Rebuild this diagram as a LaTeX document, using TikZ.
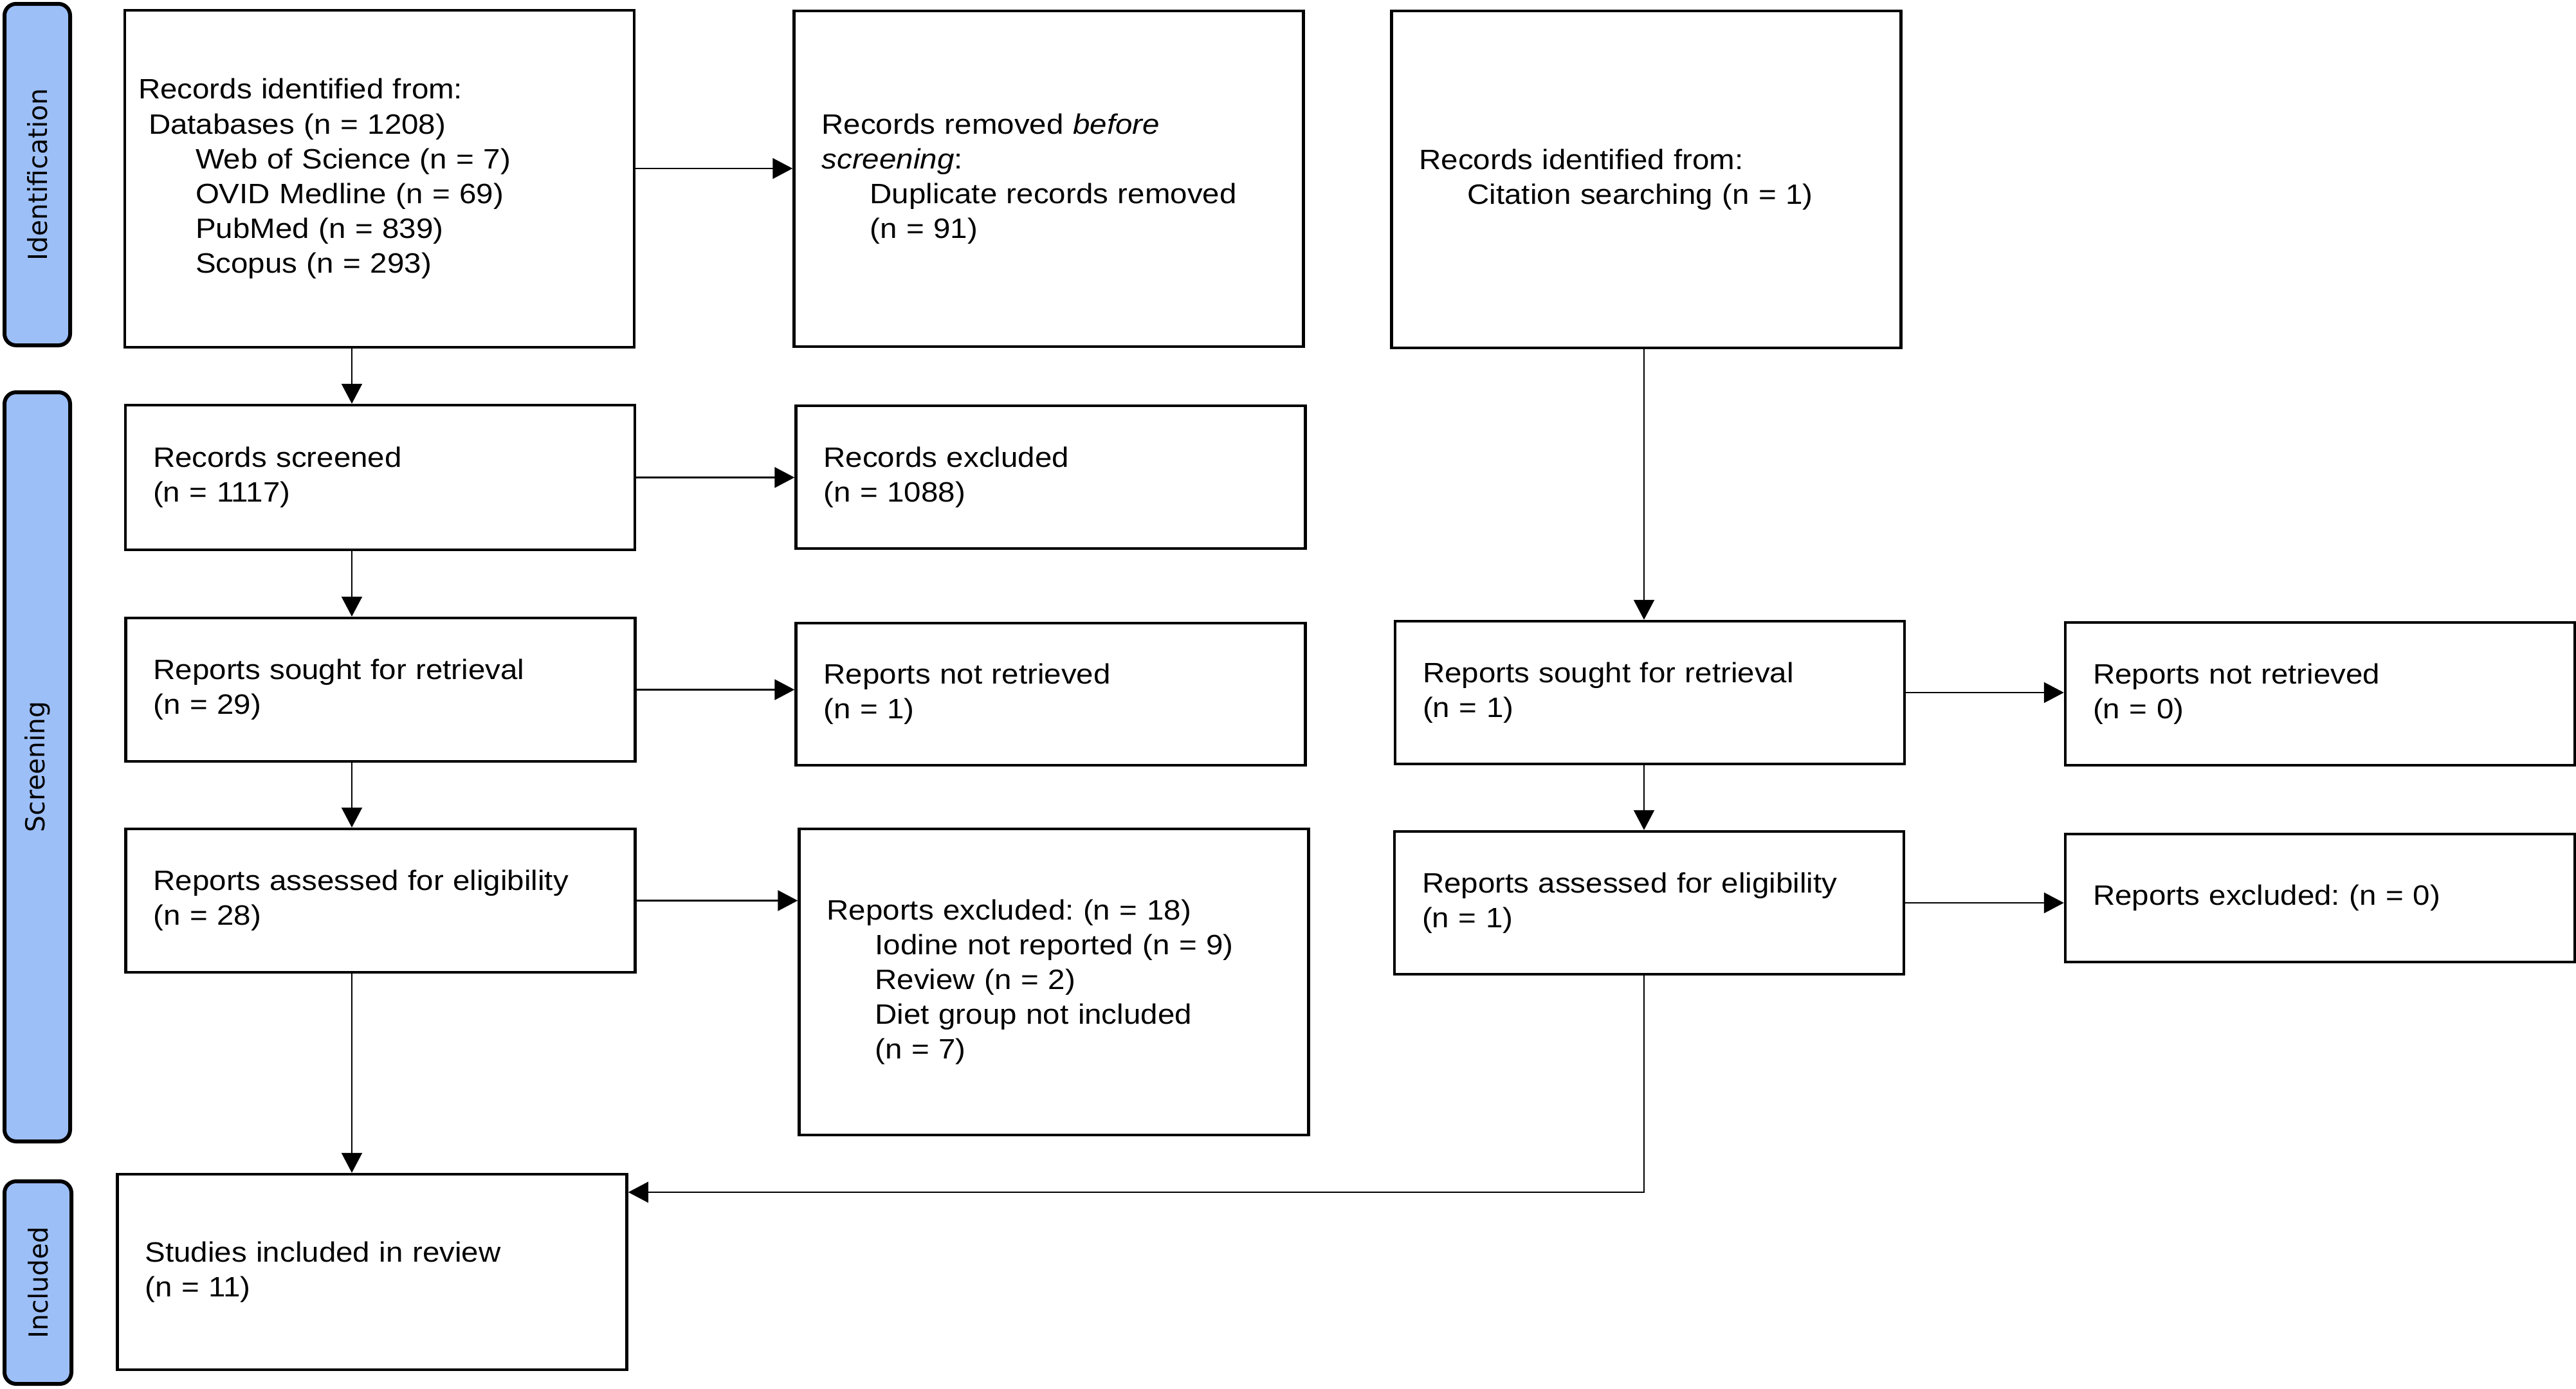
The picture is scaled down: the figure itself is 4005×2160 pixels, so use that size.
\documentclass[tikz,border=0pt]{standalone}
\usepackage{fontspec}
\setmainfont{Liberation Sans}[FakeStretch=1.09]
\newfontfamily\nhanfont{DejaVu Sans}
\usetikzlibrary{arrows.meta}
\definecolor{xanh}{HTML}{9DBFF8}
\frenchspacing
\tikzset{
  hop/.style={draw, line width=0.45mm, minimum height=#1, inner xsep=4.3mm, inner ysep=0pt,
    text width=70.6mm, align=left, anchor=center, font=\fontsize{12.4}{15.4}\selectfont},
  thanh/.style={draw, line width=0.6mm, fill=xanh, rounded corners=1.8mm, rotate=90,
    minimum width=#1, minimum height=10.2mm, inner sep=0pt,
    font=\nhanfont\fontsize{11.6}{14}\selectfont}
}
\newcommand{\lui}{\hspace*{7.5mm}}
\begin{document}
\begin{tikzpicture}[x=0.1mm, y=-0.1mm, line width=0.25mm, >={Triangle[length=3.1mm,width=3.2mm]}]
\useasboundingbox (0,0) rectangle (4005,2160);
% side bars
\node[thanh=53.1mm] (giai1) at (58,271.5) {Identification};
\node[thanh=116.5mm] (giai2) at (58,1192.5) {Screening};
\node[thanh=31.5mm, minimum height=10.4mm] (giai3) at (59,1994.5) {Included};
% boxes, left column
\node[hop=52.4mm, inner xsep=2.1mm, text width=75mm] (id1) at (590,278) {Records identified from:\\
  \hspace*{1.6mm}Databases (n = 1208)\\
  \hspace*{8.9mm}Web of Science (n = 7)\\
  \hspace*{8.9mm}OVID Medline (n = 69)\\
  \hspace*{8.9mm}PubMed (n = 839)\\
  \hspace*{8.9mm}Scopus (n = 293)};
\node[hop=22.5mm] (scr) at (591,742.5) {Records screened\\(n = 1117)};
\node[hop=22.3mm] (seek) at (591.5,1072.5) {Reports sought for retrieval\\(n = 29)};
\node[hop=22.3mm] (elig) at (591.5,1400.5) {Reports assessed for eligibility\\(n = 28)};
\node[hop=30.4mm] (incl) at (578.5,1978) {Studies included in review\\(n = 11)};
% boxes, middle column
\node[hop=52.2mm] (rem) at (1630.5,278) {Records removed \emph{before}\\
  \emph{screening}:\\
  \lui Duplicate records removed\\
  \lui (n = 91)};
\node[hop=22.2mm] (rexc) at (1633.5,742) {Records excluded\\(n = 1088)};
\node[hop=22.1mm] (nret) at (1633.5,1079.5) {Reports not retrieved\\(n = 1)};
\node[hop=47.6mm] (rpx) at (1638.5,1527) {Reports excluded: (n = 18)\\
  \lui Iodine not reported (n = 9)\\
  \lui Review (n = 2)\\
  \lui Diet group not included\\
  \lui (n = 7)};
% boxes, citation searching
\node[hop=52.4mm] (idcite) at (2559.5,279) {Records identified from:\\
  \lui Citation searching (n = 1)};
\node[hop=22.2mm] (seekc) at (2565,1077) {Reports sought for retrieval\\(n = 1)};
\node[hop=22.2mm] (eligc) at (2564,1404) {Reports assessed for eligibility\\(n = 1)};
\node[hop=22.2mm] (nretc) at (3607,1079) {Reports not retrieved\\(n = 0)};
\node[hop=19.9mm] (rpxc) at (3607,1396.5) {Reports excluded: (n = 0)};
% connectors
\coordinate (trucx) at (547,0);
\coordinate (trucc) at (2556,0);
\coordinate (goc) at (2556,1854);
\draw[->] ([yshift=1.6mm]id1.east) -- ([yshift=1.6mm]id1.east -| rem.west);
\foreach \tu/\den in {scr/rexc, seek/nret, elig/rpx, seekc/nretc, eligc/rpxc}
  \draw[->] (\tu.east) -- (\tu.east -| \den.west);
\foreach \tu/\den in {id1/scr, scr/seek, seek/elig, elig/incl}
  \draw[->] (\tu.south -| trucx) -- (\den.north -| trucx);
\foreach \tu/\den in {idcite/seekc, seekc/eligc}
  \draw[->] (\tu.south -| trucc) -- (\den.north -| trucc);
\draw[->] (eligc.south -| goc) -- (goc) -- (goc -| incl.east);
\end{tikzpicture}
\end{document}
